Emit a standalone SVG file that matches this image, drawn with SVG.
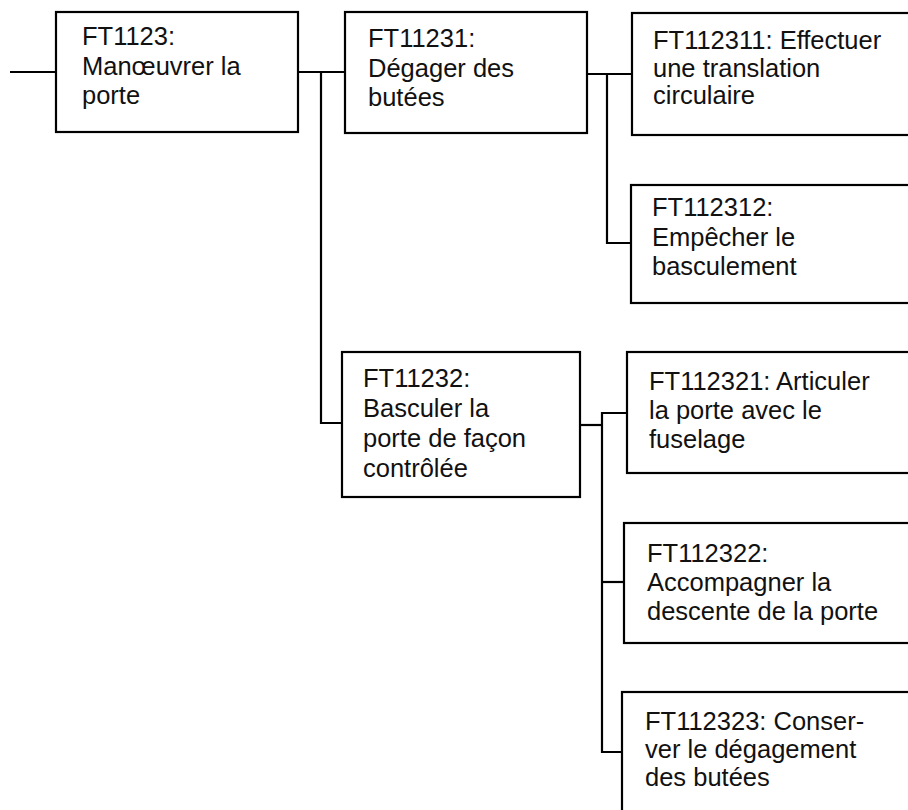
<svg xmlns="http://www.w3.org/2000/svg" width="908" height="810" viewBox="0 0 908 810">
<style>
.box{fill:#fff;stroke:#000;stroke-width:2.2}
.t{font-family:"Liberation Sans",Arial,sans-serif;font-size:25.5px;fill:#111}
.c{fill:none;stroke:#000;stroke-width:2.2}
</style>
<rect width="908" height="810" fill="#fff"/>
<g id="connectors">
<path class="c" d="M10 72 H56"/>
<path class="c" d="M298 72 H345"/>
<path class="c" d="M321 72 V423 H342"/>
<path class="c" d="M587 74 H632"/>
<path class="c" d="M607 74 V243 H632"/>
<path class="c" d="M580 425 H602"/>
<path class="c" d="M627 413 H602 V752 H622"/>
<path class="c" d="M602 582 H624"/>
</g>
<g id="n1"><rect class="box" x="56" y="12" width="242" height="120"/>
<text class="t" x="82" y="45">FT1123:</text><text class="t" x="82" y="75">Manœuvrer la</text><text class="t" x="82" y="104">porte</text></g>
<g id="n2"><rect class="box" x="345" y="12" width="242" height="121"/>
<text class="t" x="368" y="47">FT11231:</text><text class="t" x="368" y="77">Dégager des</text><text class="t" x="368" y="106">butées</text></g>
<g id="n3"><rect class="box" x="632" y="13" width="290" height="122"/>
<text class="t" x="653" y="49">FT112311: Effectuer</text><text class="t" x="653" y="77">une translation</text><text class="t" x="653" y="104">circulaire</text></g>
<g id="n4"><rect class="box" x="631" y="185" width="290" height="118"/>
<text class="t" x="652" y="216">FT112312:</text><text class="t" x="652" y="246">Empêcher le</text><text class="t" x="652" y="275">basculement</text></g>
<g id="n5"><rect class="box" x="342" y="352" width="238" height="145"/>
<text class="t" x="363" y="387">FT11232:</text><text class="t" x="363" y="417">Basculer la</text><text class="t" x="363" y="447">porte de façon</text><text class="t" x="363" y="477">contrôlée</text></g>
<g id="n6"><rect class="box" x="627" y="352" width="295" height="121"/>
<text class="t" x="649" y="390">FT112321: Articuler</text><text class="t" x="649" y="419">la porte avec le</text><text class="t" x="649" y="448">fuselage</text></g>
<g id="n7"><rect class="box" x="624" y="523" width="298" height="120"/>
<text class="t" x="647" y="562">FT112322:</text><text class="t" x="647" y="591">Accompagner la</text><text class="t" x="647" y="620">descente de la porte</text></g>
<g id="n8"><rect class="box" x="622" y="692" width="300" height="130"/>
<text class="t" x="645" y="730">FT112323: Conser-</text><text class="t" x="645" y="758">ver le dégagement</text><text class="t" x="645" y="786">des butées</text></g>
</svg>
